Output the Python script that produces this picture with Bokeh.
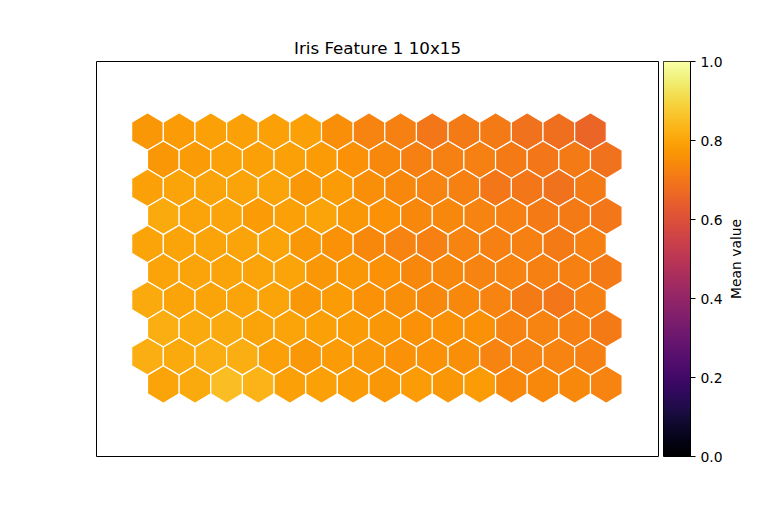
import numpy as np
from bokeh.plotting import figure
from bokeh.models import LinearColorMapper, FixedTicker, PrintfTickFormatter, ColumnDataSource, Range1d, Title
from bokeh.palettes import Inferno256
from bokeh.layouts import row
from bokeh.embed import file_html
from bokeh.resources import INLINE

title_text = "Iris Feature 1 10x15"
colorbar_label = "Mean value"
cbar_ticks = [0.0, 0.2, 0.4, 0.6, 0.8, 1.0]
n_rows, n_cols = 10, 15

# mean values per hexagon, top row first, left to right
row_0 = [0.77, 0.78, 0.79, 0.79, 0.79, 0.79, 0.75, 0.73, 0.72, 0.70, 0.71, 0.71, 0.69, 0.68, 0.66]
row_1 = [0.77, 0.78, 0.79, 0.79, 0.79, 0.78, 0.76, 0.74, 0.72, 0.72, 0.72, 0.71, 0.70, 0.71, 0.69]
row_2 = [0.79, 0.80, 0.80, 0.80, 0.80, 0.77, 0.78, 0.75, 0.74, 0.73, 0.72, 0.70, 0.70, 0.69, 0.71]
row_3 = [0.81, 0.80, 0.80, 0.78, 0.79, 0.80, 0.77, 0.76, 0.74, 0.74, 0.73, 0.72, 0.71, 0.71, 0.70]
row_4 = [0.80, 0.80, 0.80, 0.80, 0.80, 0.77, 0.76, 0.74, 0.73, 0.72, 0.73, 0.72, 0.72, 0.71, 0.72]
row_5 = [0.80, 0.80, 0.80, 0.80, 0.80, 0.77, 0.77, 0.76, 0.74, 0.74, 0.73, 0.73, 0.72, 0.72, 0.71]
row_6 = [0.81, 0.80, 0.80, 0.80, 0.80, 0.77, 0.78, 0.76, 0.75, 0.74, 0.74, 0.73, 0.71, 0.70, 0.72]
row_7 = [0.82, 0.81, 0.81, 0.80, 0.80, 0.79, 0.78, 0.77, 0.76, 0.76, 0.76, 0.73, 0.73, 0.72, 0.71]
row_8 = [0.82, 0.81, 0.82, 0.82, 0.79, 0.77, 0.78, 0.77, 0.76, 0.76, 0.75, 0.73, 0.73, 0.73, 0.72]
row_9 = [0.80, 0.81, 0.85, 0.83, 0.79, 0.79, 0.78, 0.77, 0.78, 0.77, 0.78, 0.74, 0.74, 0.74, 0.73]
rows = [row_0, row_1, row_2, row_3, row_4, row_5, row_6, row_7, row_8, row_9]

mapper = LinearColorMapper(palette=Inferno256, low=0, high=1)

R = 1 / np.sqrt(3)
angles = np.radians([90, 150, 210, 270, 330, 30])
xs, ys, vals = [], [], []
for r, vals_row in enumerate(rows):
    for c, v in enumerate(vals_row):
        cx = c + 0.5 * (r % 2)
        cy = (n_rows - 1 - r) * np.sqrt(3) / 2
        xs.append(list(cx + R * np.cos(angles)))
        ys.append(list(cy + R * np.sin(angles)))
        vals.append(v)
src = ColumnDataSource(dict(xs=xs, ys=ys, v=vals))

p = figure(width=663, height=512, output_backend="svg", toolbar_location=None,
           x_range=Range1d(-1.612, 16.15), y_range=Range1d(-2.219, 9.954),
           min_border_left=96, min_border_right=5, min_border_top=61, min_border_bottom=56,
           title=title_text)
p.patches("xs", "ys", source=src, fill_color={"field": "v", "transform": mapper},
          line_color="white", line_width=1.2)
p.axis.visible = False
p.grid.visible = False
p.outline_line_color = "black"
p.outline_line_width = 1
p.outline_line_alpha = 1
p.title.align = "center"
p.title.text_font = "DejaVu Sans"
p.title.text_font_style = "normal"
p.title.text_font_size = "16.7px"
p.title.text_color = "black"
p.title.standoff = 7
p.background_fill_color = "white"
p.border_fill_color = "white"

# colorbar figure
grad = np.linspace(0, 1, 256).reshape(256, 1)
cb = figure(width=62, height=512, output_backend="svg", toolbar_location=None,
            x_range=Range1d(0, 1), y_range=Range1d(0, 1), y_axis_location="right",
            min_border_left=0, min_border_right=35, min_border_top=61, min_border_bottom=56)
cb.image(image=[grad], x=0, y=0, dw=1, dh=1, color_mapper=mapper)
cb.xaxis.visible = False
cb.grid.visible = False
cb.outline_line_color = "black"
cb.outline_line_alpha = 1
ax = cb.yaxis[0]
ax.ticker = FixedTicker(ticks=cbar_ticks)
ax.formatter = PrintfTickFormatter(format="%.1f")
ax.minor_tick_line_color = None
ax.major_tick_in = 0
ax.major_tick_out = 5
ax.major_tick_line_color = "black"
ax.major_label_standoff = 5
ax.major_label_text_font = "DejaVu Sans"
ax.major_label_text_font_size = "13.9px"
ax.major_label_text_color = "black"
ax.axis_line_color = "black"
cb.border_fill_color = "white"

# colorbar label (reads bottom to top)
lab = figure(width=43, height=512, output_backend="svg", toolbar_location=None,
             x_range=Range1d(0, 1), y_range=Range1d(0, 1),
             min_border_left=0, min_border_right=0, min_border_top=61, min_border_bottom=56)
lab.axis.visible = False
lab.grid.visible = False
lab.outline_line_color = None
lab.border_fill_color = "white"
lab.add_layout(Title(text=colorbar_label, align="center", text_font="DejaVu Sans",
                     text_font_size="13.9px", text_font_style="normal", text_color="black",
                     standoff=0, offset=0), "left")

layout = row(p, cb, lab, spacing=0)
open("out.html", "w").write(file_html(layout, INLINE))
